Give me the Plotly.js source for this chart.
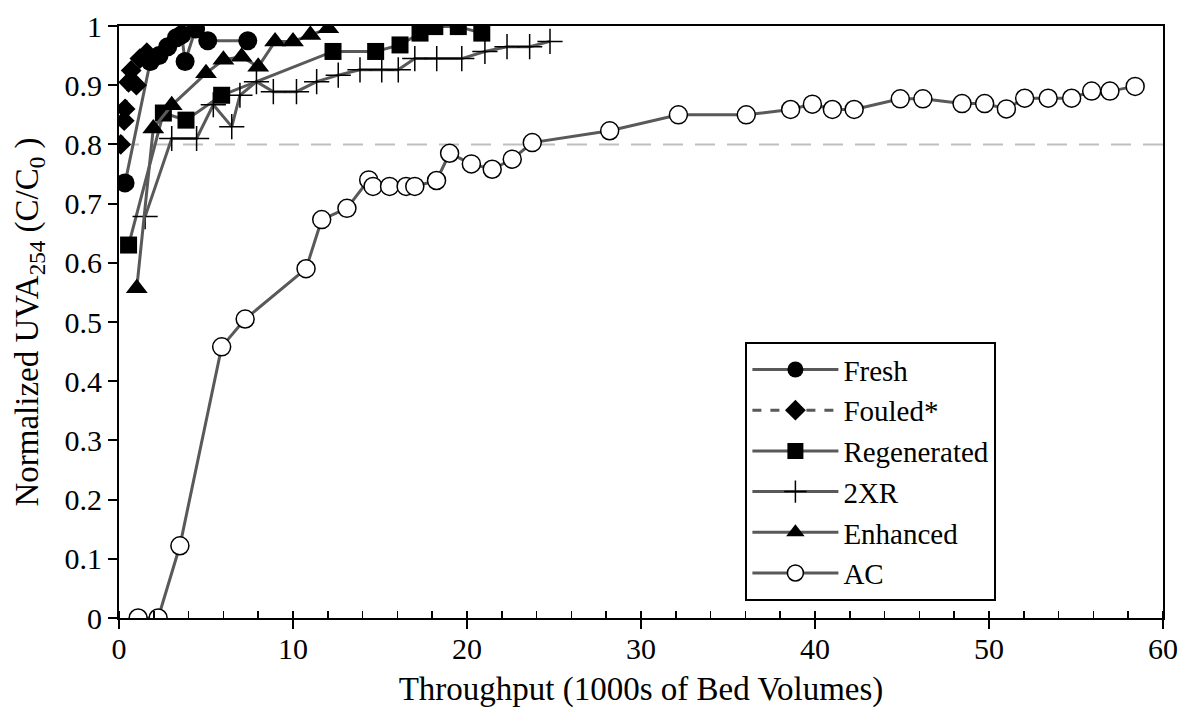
<!DOCTYPE html>
<html>
<head>
<meta charset="utf-8">
<script src="https://cdn.plot.ly/plotly-3.0.1.min.js"></script>
<style>html,body{margin:0;padding:0;background:#fff;}#chart{width:1185px;height:721px;}</style>
</head>
<body>
<div id="chart"></div>
<script>
// Throughput in 1000s of bed volumes, normalized UVA254 C/C0
const freshX = [0.35, 1.8, 2.3, 2.8, 3.3, 3.6, 3.8, 4.4, 5.1, 7.4];
const freshY = [0.735, 0.94, 0.95, 0.965, 0.98, 0.985, 0.94, 0.995, 0.975, 0.975];

const fouledX = [0.1, 0.3, 0.35, 0.55, 0.7, 1.0, 1.2, 1.6];
const fouledY = [0.80, 0.84, 0.86, 0.905, 0.925, 0.90, 0.945, 0.955];

const regenX = [0.55, 2.55, 3.85, 5.9, 12.3, 14.75, 16.15, 17.3, 18.15, 19.5, 20.85];
const regenY = [0.63, 0.853, 0.841, 0.883, 0.957, 0.957, 0.968, 0.988, 0.999, 0.999, 0.988];

const x2xrX = [1.5, 3.03, 4.46, 5.42, 6.48, 6.95, 7.9, 8.87, 10.2, 11.36, 12.6, 13.85, 15.1, 16.05, 17.0, 18.26, 19.7, 21.03, 22.3, 23.6, 24.77];
const x2xrY = [0.678, 0.81, 0.81, 0.867, 0.83, 0.883, 0.906, 0.889, 0.889, 0.906, 0.917, 0.926, 0.926, 0.926, 0.945, 0.945, 0.945, 0.957, 0.965, 0.965, 0.974];

const enhX = [1.02, 1.97, 3.03, 5.0, 6.0, 7.05, 8.0, 8.97, 10.0, 11.0, 12.03];
const enhY = [0.557, 0.827, 0.866, 0.92, 0.943, 0.948, 0.931, 0.974, 0.974, 0.985, 0.996];

const acX = [1.1, 2.25, 3.5, 5.9, 7.25, 10.75, 11.65, 13.1, 14.35, 14.6, 15.55, 16.5, 17.0, 18.25, 19.0, 20.25, 21.45, 22.6, 23.75, 28.2, 32.15, 36.05, 38.6, 39.85, 41.0, 42.25, 44.9, 46.2, 48.45, 49.75, 51.0, 52.05, 53.4, 54.75, 55.9, 56.95, 58.4];
const acY = [0, 0, 0.122, 0.458, 0.505, 0.59, 0.673, 0.692, 0.74, 0.729, 0.729, 0.729, 0.729, 0.739, 0.785, 0.767, 0.758, 0.775, 0.803, 0.823, 0.85, 0.85, 0.859, 0.868, 0.859, 0.859, 0.877, 0.877, 0.869, 0.869, 0.86, 0.878, 0.878, 0.878, 0.89, 0.89, 0.898];

const refX = [0, 60];
const refY = [0.8, 0.8];

const seriesNames = ["Fresh", "Fouled*", "Regenerated", "2XR", "Enhanced", "AC"];

const FONT = "Liberation Serif, Times New Roman, serif";
const LINE = "#595959";

const traces = [
  {x: refX, y: refY, mode: "lines", showlegend: false, hoverinfo: "skip",
   line: {color: "#bfbfbf", width: 2, dash: "20px,12px"}},
  {x: regenX, y: regenY, name: seriesNames[2], mode: "lines+markers",
   line: {color: LINE, width: 3}, marker: {symbol: "square", size: 17, color: "#000"}},
  {x: x2xrX, y: x2xrY, name: seriesNames[3], mode: "lines+markers",
   line: {color: LINE, width: 3}, marker: {symbol: "cross-thin-open", size: 18, color: "#000", line: {color: "#000", width: 1.5}}},
  {x: enhX, y: enhY, name: seriesNames[4], mode: "lines+markers",
   line: {color: LINE, width: 3}, marker: {symbol: "triangle-up", size: 19, color: "#000"}},
  {x: freshX, y: freshY, name: seriesNames[0], mode: "lines+markers",
   line: {color: LINE, width: 3}, marker: {symbol: "circle", size: 19, color: "#000"}},
  {x: fouledX, y: fouledY, name: seriesNames[1], mode: "lines+markers",
   line: {color: LINE, width: 3, dash: "9px,9px"}, marker: {symbol: "diamond", size: 16, color: "#000"}},
  {x: acX, y: acY, name: seriesNames[5], mode: "lines+markers",
   line: {color: LINE, width: 3}, marker: {symbol: "circle", size: 18, color: "#fff", line: {color: "#000", width: 1.5}}}
];

const layout = {
  width: 1185, height: 721,
  paper_bgcolor: "#fff", plot_bgcolor: "#fff",
  margin: {l: 119, r: 22, t: 26, b: 103},
  font: {family: FONT, color: "#000", size: 30},
  showlegend: true,
  legend: {
    x: 0.6, y: 0.466, xanchor: "left", yanchor: "top",
    bordercolor: "#000", borderwidth: 2, bgcolor: "#fff",
    font: {family: FONT, size: 29, color: "#000"},
    traceorder: "normal", itemwidth: 86, tracegroupgap: 0
  },
  xaxis: {
    range: [0, 60], dtick: 10, tick0: 0,
    ticks: "outside", ticklen: 9, tickwidth: 2, tickcolor: "#000",
    ticklabelstandoff: -6,
    showline: true, linewidth: 2, linecolor: "#000", mirror: true,
    showgrid: false, zeroline: false,
    minor: {dtick: 2, ticks: "inside", ticklen: 7, tickwidth: 1.5, tickcolor: "#000", showgrid: false},
    tickfont: {family: FONT, size: 30, color: "#000"},
    title: {text: "Throughput (1000s of Bed Volumes)", font: {family: FONT, size: 33, color: "#000"}, standoff: 13}
  },
  yaxis: {
    range: [0, 1], dtick: 0.1, tick0: 0,
    ticks: "outside", ticklen: 9, tickwidth: 2, tickcolor: "#000",
    showline: true, linewidth: 2, linecolor: "#000", mirror: true,
    showgrid: false, zeroline: false,
    tickfont: {family: FONT, size: 30, color: "#000"},
    title: {text: "Normalized UVA<sub>254</sub> (C/C<sub>0</sub> )", font: {family: FONT, size: 33, color: "#000"}, standoff: 16}
  },
  xaxis2: {
    overlaying: "x", anchor: "y", side: "bottom", range: [0, 60], dtick: 10, tick0: 0,
    ticks: "inside", ticklen: 9, tickwidth: 2, tickcolor: "#000",
    showticklabels: false, showline: false, showgrid: false, zeroline: false
  },
  yaxis2: {
    overlaying: "y", anchor: "x", side: "left", range: [0, 1], dtick: 0.1, tick0: 0,
    ticks: "inside", ticklen: 9, tickwidth: 2, tickcolor: "#000",
    showticklabels: false, showline: false, showgrid: false, zeroline: false
  }
};

// legend order as in reference
const order = ["Fresh", "Fouled*", "Regenerated", "2XR", "Enhanced", "AC"];
traces.forEach(t => { if (t.name) t.legendrank = order.indexOf(t.name) + 1; });

Plotly.newPlot("chart", traces, layout, {displayModeBar: false, staticPlot: true});
</script>
</body>
</html>
